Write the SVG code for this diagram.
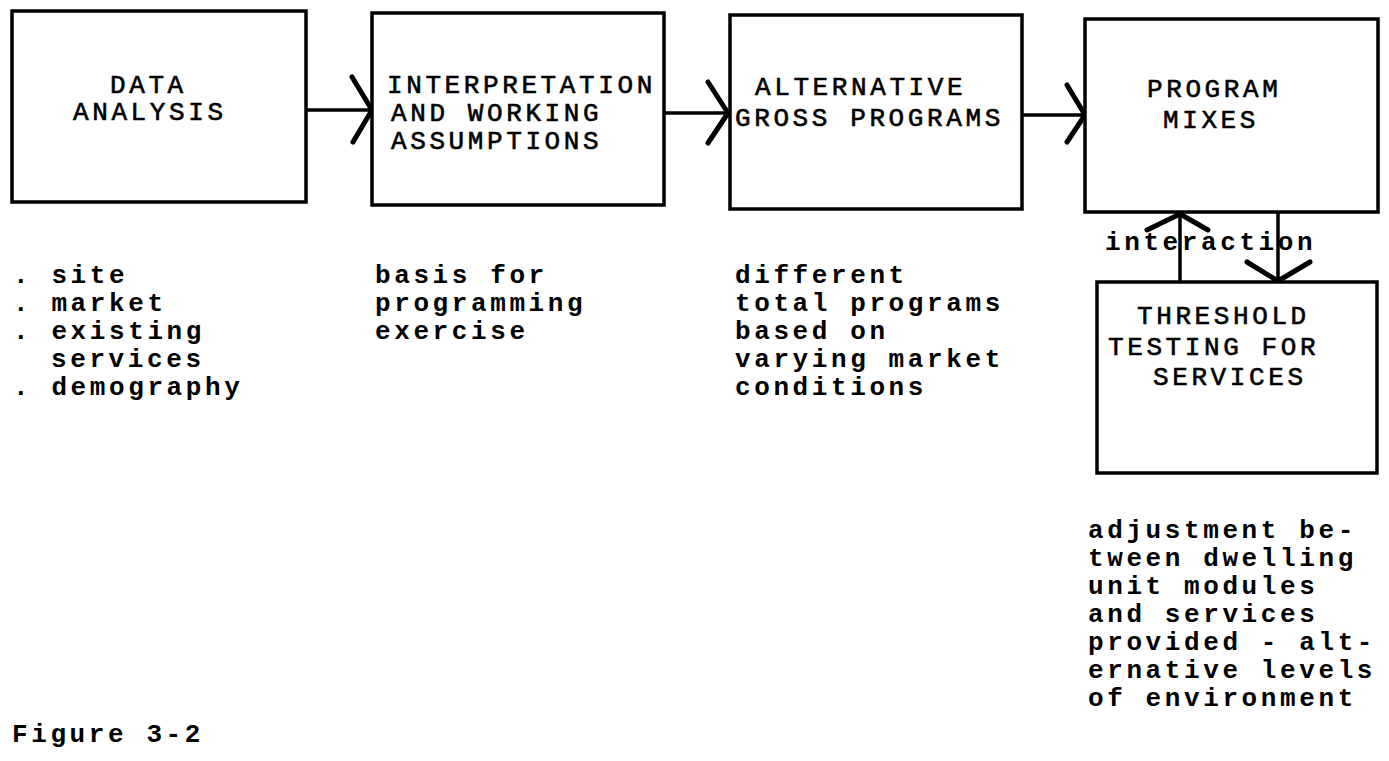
<svg xmlns="http://www.w3.org/2000/svg" width="1389" height="761" viewBox="0 0 1389 761">
<style>
  .box { fill: #fff; stroke: #000; stroke-width: 3.5; }
  .t { font-family: "Liberation Mono", "DejaVu Sans Mono", monospace; font-size: 26px; letter-spacing: 3.6px; fill: #000; }
  .n { stroke: #000; stroke-width: 0.6; }
  .b { font-weight: bold; }
  .ln { stroke: #000; stroke-width: 3.5; fill: none; }
  .hd { stroke: #000; stroke-width: 5; fill: none; stroke-linecap: round; stroke-linejoin: round; }
</style>
<rect width="1389" height="761" fill="#fff"/>

<g id="connectors">
  <line class="ln" x1="306" y1="110" x2="372" y2="110"/>
  <polyline class="hd" points="352,77 372,110 353,142"/>
  <line class="ln" x1="664" y1="113" x2="730" y2="113"/>
  <polyline class="hd" points="708,82 728,113 708,143"/>
  <line class="ln" x1="1022" y1="115" x2="1085" y2="115"/>
  <polyline class="hd" points="1067,85 1085,115 1067,142"/>
  <line class="ln" x1="1180" y1="212" x2="1180" y2="282"/>
  <polyline class="hd" points="1147,230 1180,214 1208,230"/>
  <line class="ln" x1="1278" y1="212" x2="1278" y2="282"/>
  <polyline class="hd" points="1247,262 1278,281 1310,262"/>
  <text class="t b" x="1105" y="250">interaction</text>
</g>

<g id="data-analysis">
  <rect class="box" x="12" y="11" width="294" height="191"/>
  <text class="t n" x="110" y="93">DATA</text>
  <text class="t n" x="73" y="120">ANALYSIS</text>
</g>

<g id="interpretation">
  <rect class="box" x="372" y="13" width="292" height="192"/>
  <text class="t n" x="387" y="93">INTERPRETATION</text>
  <text class="t n" x="391" y="121">AND WORKING</text>
  <text class="t n" x="391" y="149">ASSUMPTIONS</text>
</g>

<g id="alternative">
  <rect class="box" x="730" y="15" width="292" height="194"/>
  <text class="t n" x="755" y="95">ALTERNATIVE</text>
  <text class="t n" x="735" y="126">GROSS PROGRAMS</text>
</g>

<g id="program-mixes">
  <rect class="box" x="1085" y="19" width="293" height="193"/>
  <text class="t n" x="1147" y="97">PROGRAM</text>
  <text class="t n" x="1163" y="128">MIXES</text>
</g>

<g id="threshold">
  <rect class="box" x="1097" y="282" width="280" height="191"/>
  <text class="t n" x="1137" y="324">THRESHOLD</text>
  <text class="t n" x="1108" y="355">TESTING FOR</text>
  <text class="t n" x="1153" y="385">SERVICES</text>
</g>

<g id="notes">
  <text class="t b" x="13" y="283">. site</text>
  <text class="t b" x="13" y="311">. market</text>
  <text class="t b" x="13" y="339">. existing</text>
  <text class="t b" x="51" y="367">services</text>
  <text class="t b" x="13" y="395">. demography</text>

  <text class="t b" x="375" y="283">basis for</text>
  <text class="t b" x="375" y="311">programming</text>
  <text class="t b" x="375" y="339">exercise</text>

  <text class="t b" x="735" y="283">different</text>
  <text class="t b" x="735" y="311">total programs</text>
  <text class="t b" x="735" y="339">based on</text>
  <text class="t b" x="735" y="367">varying market</text>
  <text class="t b" x="735" y="395">conditions</text>

  <text class="t b" x="1088" y="538">adjustment be-</text>
  <text class="t b" x="1088" y="566">tween dwelling</text>
  <text class="t b" x="1088" y="594">unit modules</text>
  <text class="t b" x="1088" y="622">and services</text>
  <text class="t b" x="1088" y="650">provided - alt-</text>
  <text class="t b" x="1088" y="678">ernative levels</text>
  <text class="t b" x="1088" y="706">of environment</text>

  <text class="t b" x="12" y="742">Figure 3-2</text>
</g>
</svg>
